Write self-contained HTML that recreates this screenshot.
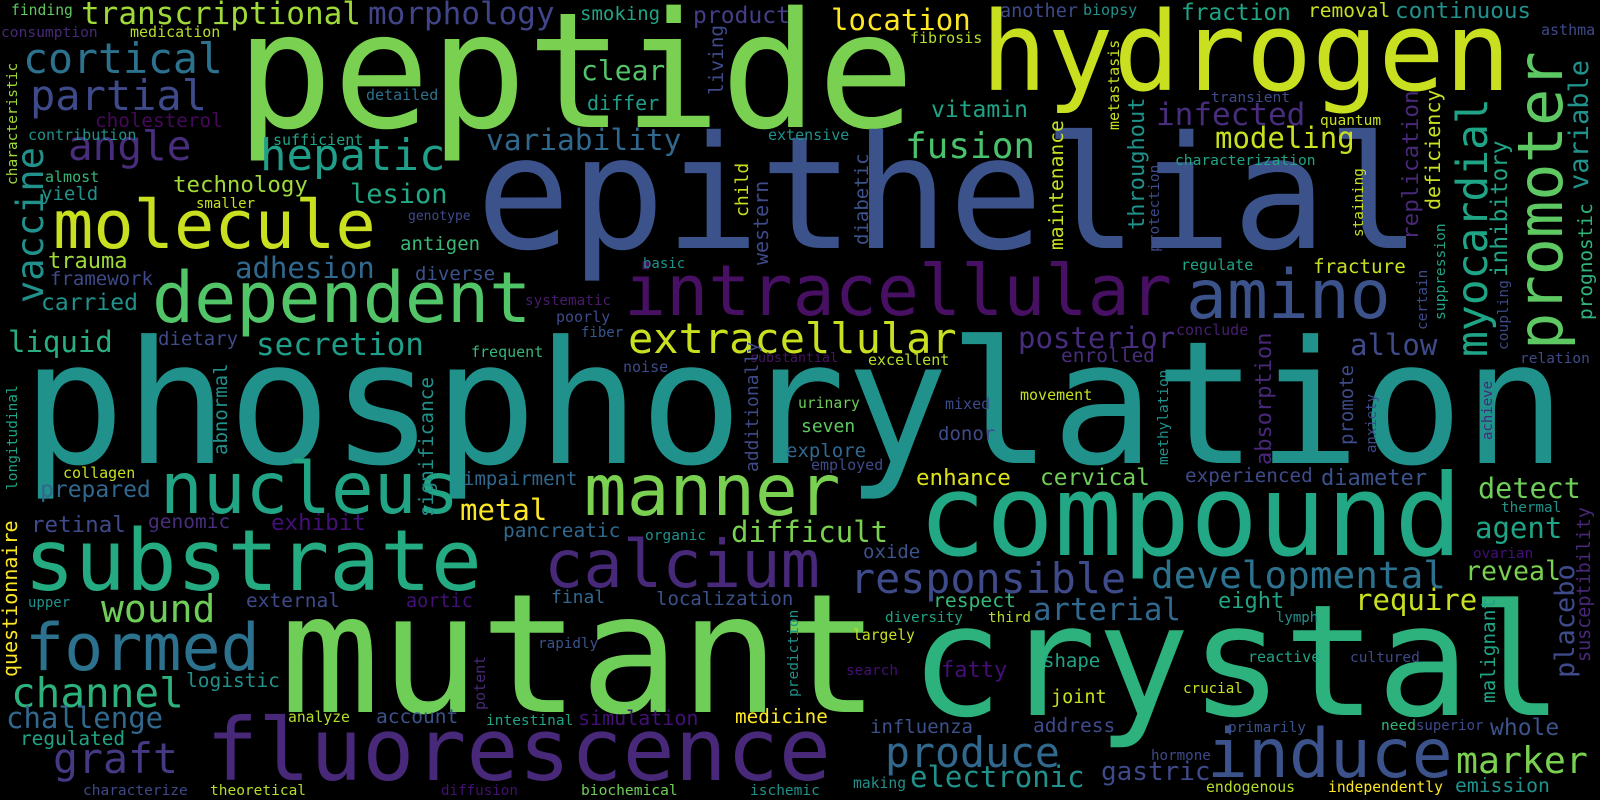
<!DOCTYPE html>
<html><head><meta charset="utf-8"><style>
html,body{margin:0;padding:0;background:#000;}
svg{display:block;}
text{font-family:"DejaVu Sans Mono","Liberation Mono",monospace;}
</style></head><body>
<svg id="cloud" width="1600" height="800" viewBox="0 0 1600 800" xmlns="http://www.w3.org/2000/svg">
<rect width="1600" height="800" fill="#000"/>
</svg>
<script>
// word, x, baseline y, font size, colour, vertical(1)
const words = [
["phosphorylation",22,463,171,"#21918c",0],
["peptide",236,127,161,"#7ad151",0],
["epithelial",476,248,157,"#3b528b",0],
["mutant",280,712,166,"#6ece58",0],
["crystal",910,715,155,"#2db27d",0],
["compound",918,555,113,"#22a884",0],
["hydrogen",981,90,110,"#c8e020",0],
["substrate",24,590,84.5,"#25ab82",0],
["fluorescence",206,780,86.5,"#482878",0],
["intracellular",624,315,70,"#471063",0],
["amino",1186,318,68,"#3b528b",0],
["dependent",152,322,70,"#52c569",0],
["molecule",53,248,67,"#c8e020",0],
["nucleus",160,513,71,"#21a585",0],
["manner",584,515,71,"#7ad151",0],
["calcium",544,587,65.5,"#482878",0],
["induce",1207,777,68,"#3b528b",0],
["formed",25,670,65,"#2c728e",0],
["promoter",1562,350,62,"#5ec962",1],
["myocardial",1487,357,43,"#20a486",1],
["extracellular",628,353,42,"#c8e020",0],
["responsible",850,593,41.7,"#3e4a89",0],
["developmental",1151,588,37.7,"#2c728e",0],
["hepatic",260,170,44,"#1f9e89",0],
["cortical",23,73,41.5,"#2c728e",0],
["partial",30,110,42,"#3e4a89",0],
["angle",68,160,41,"#472d7b",0],
["fusion",905,158,36,"#4ac16d",0],
["transcriptional",81,24,31,"#a0da39",0],
["morphology",368,24,31,"#414487",0],
["secretion",256,355,31,"#1f9e89",0],
["liquid",8,352,29,"#29af7f",0],
["vaccine",43,303,37,"#21918c",1],
["channel",11,707,41,"#2db27d",0],
["graft",53,773,41.5,"#443983",0],
["wound",101,622,38,"#6ece58",0],
["challenge",6,728,29,"#31688e",0],
["produce",885,767,41.5,"#31688e",0],
["electronic",910,787,29,"#21918c",0],
["marker",1456,773,36.5,"#7ad151",0],
["arterial",1033,620,30.7,"#31688e",0],
["difficult",731,542,29,"#7ad151",0],
["metal",460,520,29,"#fde725",0],
["location",831,30,29,"#fde725",0],
["variability",486,150,29.5,"#31688e",0],
["clear",581,80,28,"#52c569",0],
["infected",1156,125,31,"#472d7b",0],
["modeling",1215,148,29,"#c8e020",0],
["posterior",1018,348,29,"#472d7b",0],
["allow",1350,355,29,"#3e4a89",0],
["detect",1478,498,28.5,"#6ece58",0],
["agent",1475,538,29,"#20a486",0],
["reveal",1465,580,26.6,"#7ad151",0],
["require",1355,610,29,"#c8e020",0],
["eight",1218,608,22,"#20a486",0],
["whole",1490,735,23,"#3b528b",0],
["vitamin",931,117,23,"#20a486",0],
["technology",173,192,22.4,"#a0da39",0],
["lesion",350,203,27,"#22a884",0],
["adhesion",235,278,29,"#31688e",0],
["trauma",48,268,22,"#a0da39",0],
["antigen",400,250,19,"#3aba76",0],
["framework",50,285,19,"#3e4a89",0],
["carried",41,310,23,"#21918c",0],
["diverse",415,280,19,"#3b528b",0],
["dietary",158,345,19,"#3e4a89",0],
["yield",41,200,19,"#21918c",0],
["almost",45,182,15,"#35b779",0],
["smaller",196,208,14,"#c8e020",0],
["cholesterol",95,127,19.3,"#46085c",0],
["contribution",28,140,15,"#21918c",0],
["characteristic",17,185,14.5,"#a0da39",1],
["finding",11,15,14.7,"#5ec962",0],
["consumption",1,37,14.6,"#482878",0],
["medication",130,37,15,"#b5de2b",0],
["sufficient",273,145,15,"#20a486",0],
["detailed",366,100,15,"#2c728e",0],
["smoking",580,20,19,"#20a486",0],
["product",693,23,23,"#433e85",0],
["living",723,95,19.4,"#3e4a89",1],
["differ",587,110,20,"#1f9e89",0],
["child",748,217,18,"#c8e020",1],
["western",768,265,20,"#3e4a89",1],
["genotype",408,220,13,"#3e4a89",0],
["basic",643,268,14,"#21918c",0],
["systematic",525,305,14.3,"#481a6c",0],
["poorly",556,322,15,"#3e4a89",0],
["fiber",581,337,14,"#39568c",0],
["frequent",471,357,15,"#35b779",0],
["noise",623,372,15,"#3e4a89",0],
["substantial",750,362,13.3,"#471365",0],
["additionally",758,472,18,"#3e4a89",1],
["extensive",768,140,15,"#21918c",0],
["another",1000,17,18.5,"#3e4a89",0],
["biopsy",1083,15,15,"#21918c",0],
["fibrosis",910,43,15,"#b5de2b",0],
["metastasis",1119,130,15,"#c8e020",1],
["maintenance",1063,250,19.6,"#c8e020",1],
["throughout",1144,230,22,"#21918c",1],
["diabetic",868,245,19,"#3b528b",1],
["protection",1159,252,14.5,"#3e4a89",1],
["excellent",868,365,15,"#b5de2b",0],
["enrolled",1061,362,19.5,"#472d7b",0],
["movement",1020,400,15,"#c8e020",0],
["transient",1211,102,14.6,"#3e4a89",0],
["quantum",1320,125,14.5,"#c8e020",0],
["characterization",1175,165,14.6,"#20a486",0],
["fraction",1181,20,22.8,"#20a486",0],
["removal",1308,17,19.5,"#c8e020",0],
["continuous",1395,18,22.6,"#21918c",0],
["asthma",1541,35,15,"#3e4a89",0],
["variable",1588,190,27,"#21918c",1],
["prognostic",1592,320,19.4,"#2fb47c",1],
["replication",1418,240,22.6,"#482878",1],
["deficiency",1440,210,20,"#c8e020",1],
["inhibitory",1507,277,22.7,"#20a486",1],
["staining",1363,237,14.3,"#c8e020",1],
["suppression",1445,320,14.6,"#20a486",1],
["certain",1427,330,14.3,"#3e4a89",1],
["coupling",1508,350,14.5,"#3e4a89",1],
["fracture",1313,273,19.3,"#c8e020",0],
["regulate",1181,270,15,"#20a486",0],
["conclude",1176,335,15,"#481f70",0],
["relation",1520,363,14.5,"#3e4a89",0],
["absorption",1271,465,22,"#482878",1],
["promote",1353,445,19,"#3e4a89",1],
["anxiety",1376,453,14,"#3e4a89",1],
["achieve",1492,440,14,"#482878",1],
["methylation",1168,465,14.4,"#21918c",1],
["abnormal",227,455,19,"#21918c",1],
["longitudinal",17,490,14.5,"#20a486",1],
["significance",433,517,19.4,"#21918c",1],
["collagen",63,478,15,"#c8e020",0],
["prepared",40,497,23,"#31688e",0],
["retinal",31,532,22.5,"#3e4a89",0],
["genomic",148,528,19.5,"#472d7b",0],
["exhibit",271,530,22.5,"#440f76",0],
["questionnaire",17,677,20,"#fde725",1],
["upper",28,607,14,"#21918c",0],
["external",246,607,19.5,"#3e4a89",0],
["logistic",186,687,19.5,"#21918c",0],
["regulated",20,745,19.4,"#20a486",0],
["analyze",288,722,14.7,"#b5de2b",0],
["account",376,723,19.5,"#3b528b",0],
["characterize",83,795,14.5,"#3e4a89",0],
["theoretical",210,795,14.5,"#b5de2b",0],
["impairment",463,485,19,"#31688e",0],
["pancreatic",503,537,19.5,"#31688e",0],
["organic",645,540,14.5,"#21918c",0],
["aortic",406,607,18.5,"#440f76",0],
["final",551,603,18,"#31688e",0],
["localization",656,605,19,"#3b528b",0],
["rapidly",538,648,14.3,"#3b528b",0],
["potent",485,710,15,"#482878",1],
["prediction",798,697,14.5,"#21918c",1],
["intestinal",486,725,14.5,"#20a486",0],
["simulation",578,725,20,"#440f76",0],
["medicine",735,723,19.3,"#fde725",0],
["diffusion",441,795,14.2,"#440f76",0],
["biochemical",581,795,14.6,"#6ece58",0],
["ischemic",750,795,14.5,"#21918c",0],
["urinary",798,408,14.7,"#6ece58",0],
["mixed",945,409,15,"#3e4a89",0],
["seven",801,432,18,"#5ec962",0],
["donor",938,440,19,"#3e4a89",0],
["explore",786,457,19,"#31688e",0],
["employed",811,470,15,"#3e4a89",0],
["enhance",916,485,22.5,"#dde318",0],
["cervical",1040,485,22.8,"#6ece58",0],
["experienced",1185,482,19.3,"#3e4a89",0],
["diameter",1321,485,22,"#3b528b",0],
["oxide",863,558,19,"#3b528b",0],
["thermal",1501,512,14.3,"#21918c",0],
["ovarian",1473,558,14.3,"#440f76",0],
["susceptibility",1590,662,18.4,"#482878",1],
["placebo",1574,678,27,"#3e4a89",1],
["malignant",1495,703,19.4,"#20a486",1],
["lymph",1276,622,14,"#21918c",0],
["respect",933,607,19.7,"#35b779",0],
["diversity",885,622,14.4,"#20a486",0],
["third",988,622,14.3,"#b5de2b",0],
["largely",853,640,14.7,"#c8e020",0],
["fatty",941,677,22,"#440f76",0],
["search",846,675,14.4,"#440f76",0],
["shape",1043,667,19,"#20a486",0],
["joint",1051,703,18.5,"#c8e020",0],
["crucial",1183,693,14.2,"#c8e020",0],
["reactive",1248,662,15,"#20a486",0],
["cultured",1350,662,14.5,"#3e4a89",0],
["influenza",870,733,19,"#3b528b",0],
["address",1033,732,19.5,"#3e4a89",0],
["making",853,788,14.7,"#21918c",0],
["gastric",1101,780,26,"#3e4a89",0],
["hormone",1151,760,14.2,"#3e4a89",0],
["primarily",1228,732,14.4,"#3b528b",0],
["need",1381,730,14.5,"#35b779",0],
["superior",1416,730,14,"#3e4a89",0],
["endogenous",1206,792,14.8,"#b5de2b",0],
["independently",1328,792,14.7,"#fde725",0],
["emission",1455,792,19.7,"#21918c",0]
];
const svg = document.getElementById('cloud');
const NS = 'http://www.w3.org/2000/svg';
for (const w of words) {
  const t = document.createElementNS(NS, 'text');
  t.textContent = w[0];
  t.setAttribute('font-size', w[3]);
  t.setAttribute('fill', w[4]);
  if (w[5]) {
    t.setAttribute('transform', 'translate(' + w[1] + ',' + w[2] + ') rotate(-90)');
  } else {
    t.setAttribute('x', w[1]);
    t.setAttribute('y', w[2]);
  }
  
  
  svg.appendChild(t);
}
</script>
</body></html>
